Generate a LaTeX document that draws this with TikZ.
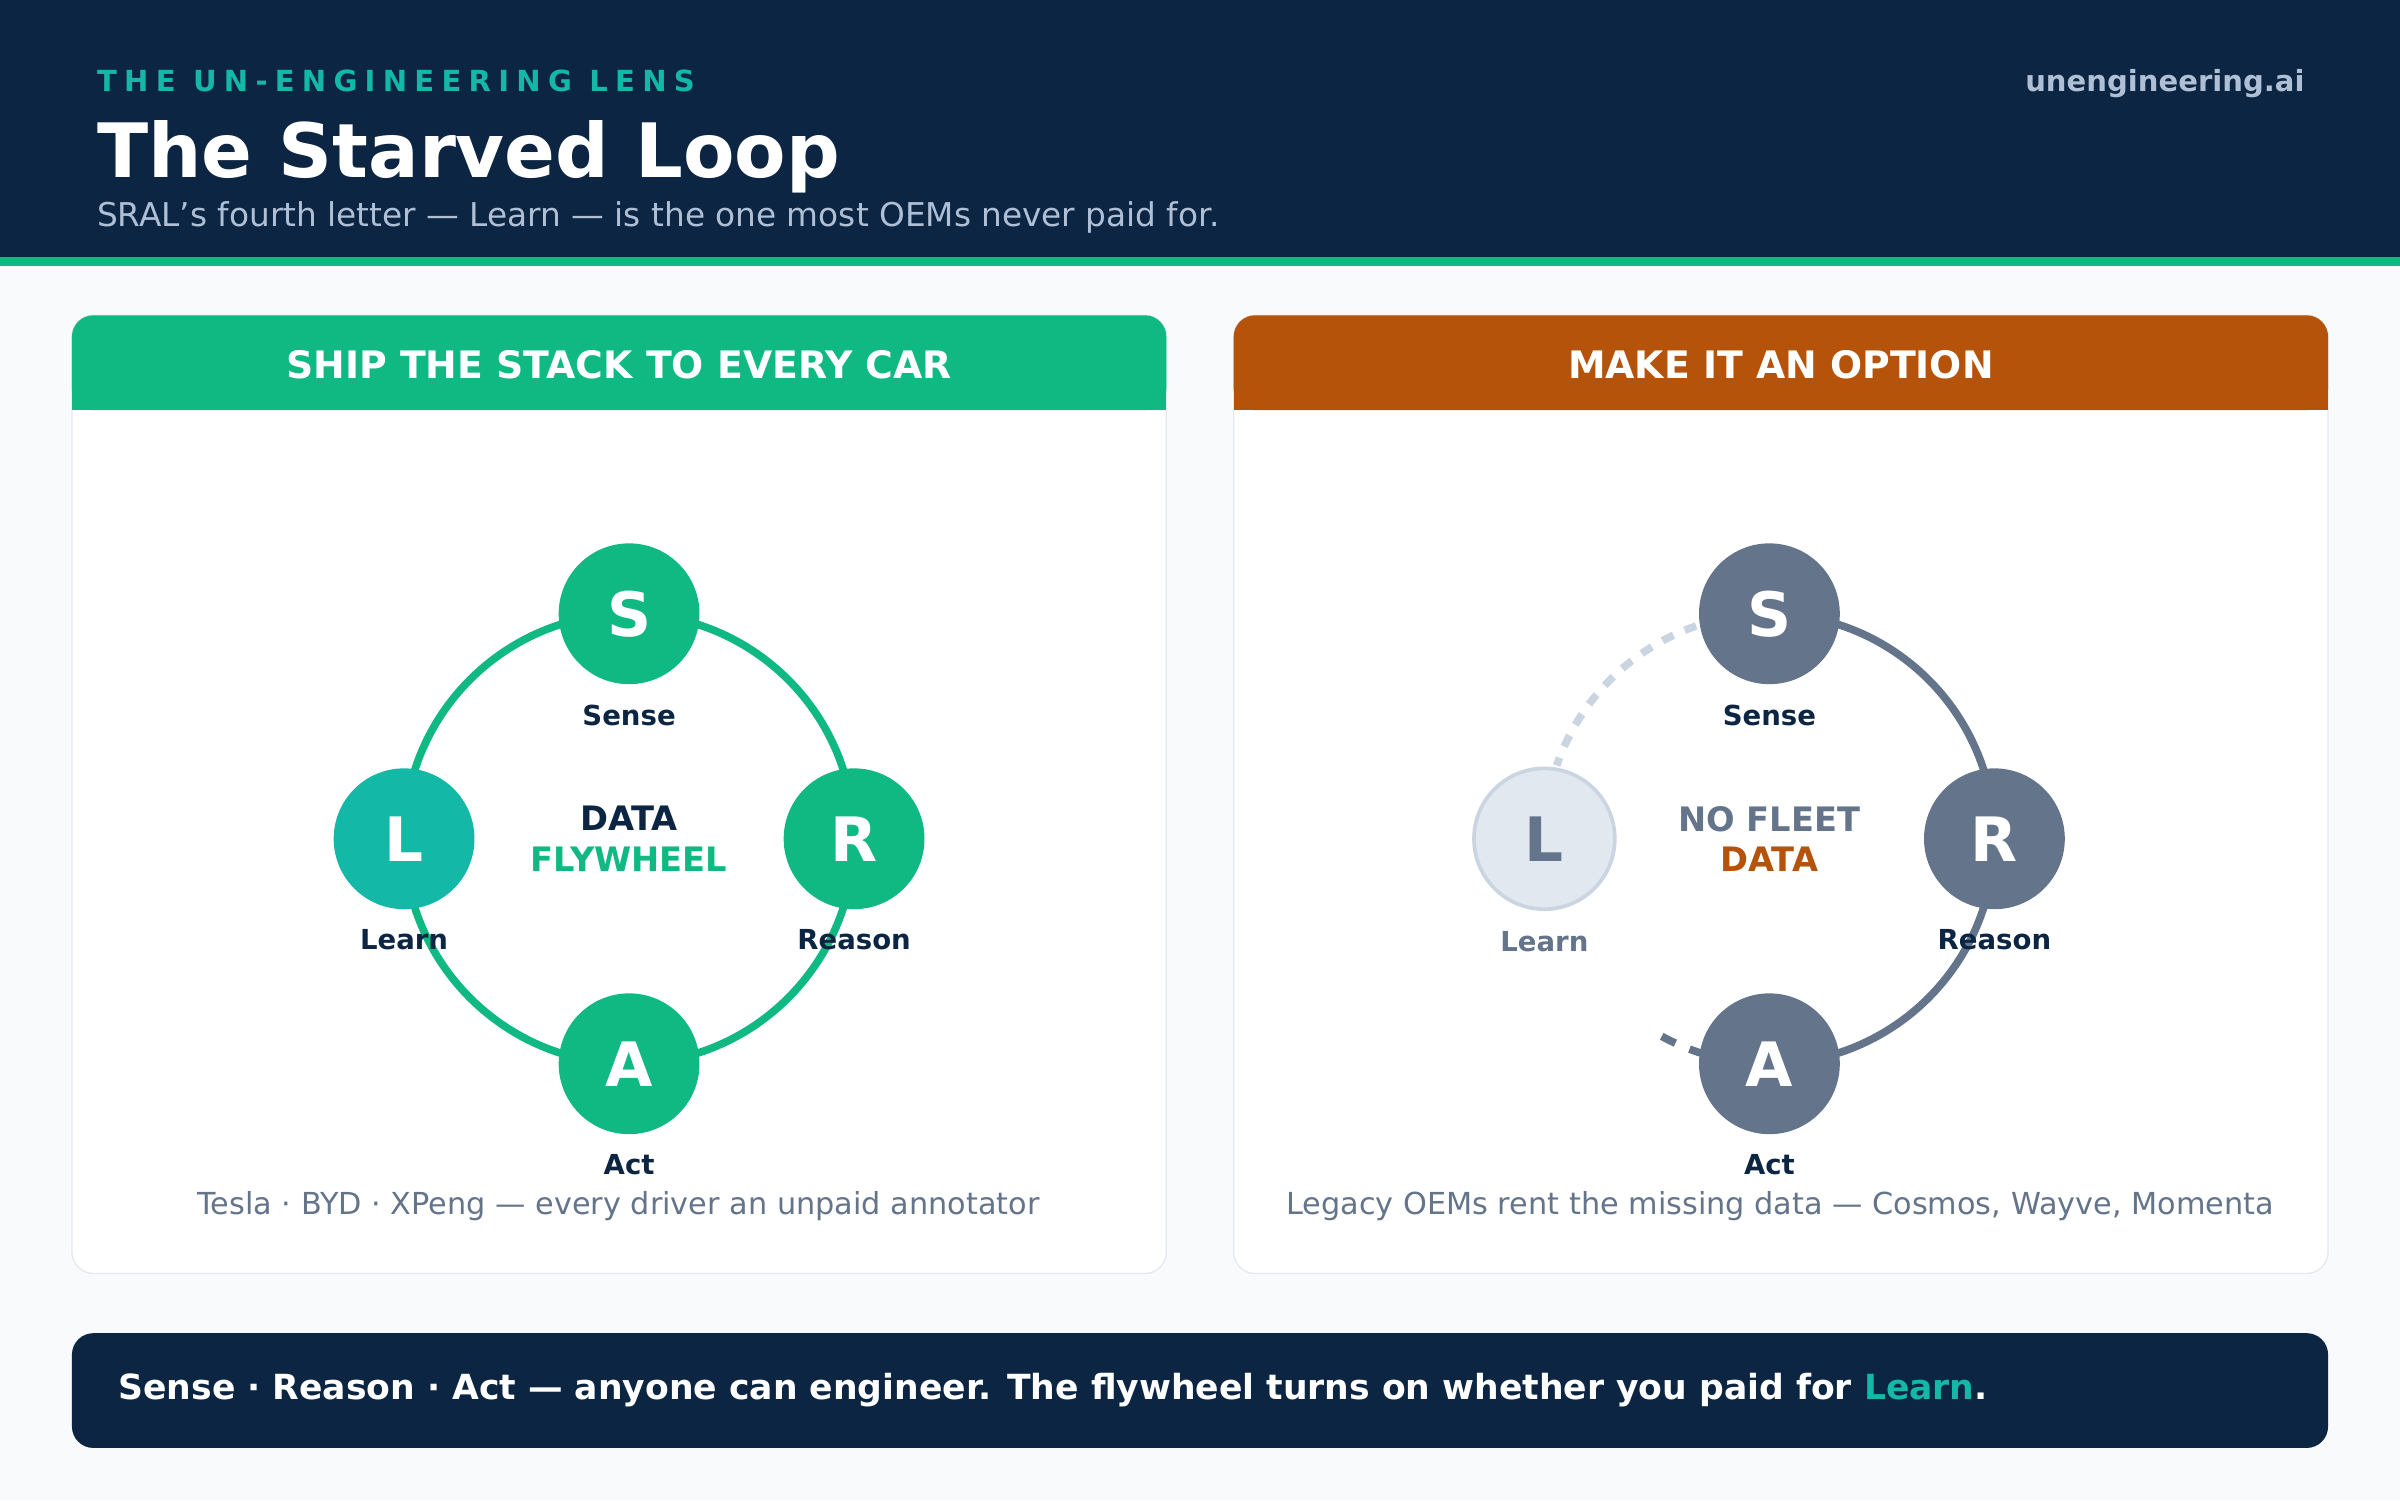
\documentclass[tikz,border=0pt]{standalone}
\usepackage{fontspec}
\setmainfont{DejaVu Sans}
\usetikzlibrary{positioning}
\definecolor{navy}{HTML}{0B2542}
\definecolor{flygreen}{HTML}{10B981}
\definecolor{flyteal}{HTML}{14B8A6}
\definecolor{optorange}{HTML}{B45309}
\definecolor{slate}{HTML}{64748B}
\definecolor{pale}{HTML}{E2E8F0}
\definecolor{paleedge}{HTML}{CBD5E1}
\definecolor{paper}{HTML}{F8FAFC}
\definecolor{subtle}{HTML}{AFC0D6}
\newcommand{\fs}[1]{\fontsize{#1pt}{\dimexpr #1pt*12/10\relax}\selectfont}
\tikzset{
  letter/.style={circle,minimum size=46pt,inner sep=0pt,text=white,font=\fs{20}\bfseries},
  steplabel/.style={font=\fs{9}\bfseries,text=navy},
  caption/.style={font=\fs{9.9},text=slate},
  heading/.style={font=\fs{12.35}\bfseries,text=white}
}
\begin{document}
\begin{tikzpicture}[x=0.5pt,y=0.5pt]
\useasboundingbox (0,0) rectangle (1568,980);
\fill[paper] (0,0) rectangle (1568,980);
% header band
\fill[navy] (0,812) rectangle (1568,980);
\fill[flygreen] (0,806) rectangle (1568,812);
\node[anchor=base west,inner sep=0pt,text=flyteal,font=\fs{9.5}\bfseries\addfontfeature{LetterSpace=25}] (kicker) at (63,920) {THE UN-ENGINEERING LENS};
\node[anchor=base west,inner sep=0pt,text=white,font=\fs{24.5}\bfseries] (title) at (63,864) {The Starved Loop};
\node[anchor=base west,inner sep=0pt,text=subtle,font=\fs{10.7}] (subtitle) at (63,832) {SRAL’s fourth letter — Learn — is the one most OEMs never paid for.};
\node[anchor=base east,inner sep=0pt,text=subtle,font=\fs{9.5}\bfseries] (site) at (1506,920) {unengineering.ai};
% panels
\foreach \x/\col/\txt in {47/flygreen/SHIP THE STACK TO EVERY CAR, 806/optorange/MAKE IT AN OPTION}{
  \draw[pale,fill=white,rounded corners=7pt] (\x,148) rectangle ++(715,626);
  \fill[\col,rounded corners=7pt] (\x,712) rectangle ++(715,62);
  \fill[\col] (\x,712) rectangle ++(715,30);
  \node[heading] at (\x+357.5,742) {\txt};
}
% left loop
\coordinate (lc) at (411,432);
\draw[flygreen,line width=2.5pt] (lc) circle (147);
\node[letter,fill=flygreen] (lS) at (411,579) {S};
\node[letter,fill=flygreen] (lR) at (558,432) {R};
\node[letter,fill=flygreen] (lA) at (411,285) {A};
\node[letter,fill=flyteal] (lL) at (264,432) {L};
\node[steplabel,below=3pt of lS] {Sense};
\node[steplabel,below=3pt of lR] {Reason};
\node[steplabel,below=3pt of lA] {Act};
\node[steplabel,below=3pt of lL] {Learn};
\node[font=\fs{11}\bfseries,align=center,text=navy] at (lc) {DATA\\\textcolor{flygreen}{FLYWHEEL}};
\node[caption] at (404,192) {Tesla · BYD · XPeng — every driver an unpaid annotator};
% right loop
\coordinate (rc) at (1156,432);
\draw[slate,line width=2.5pt] ([shift={(rc)}]90:147) arc (90:-90:147);
\draw[slate,line width=2.5pt,dash pattern=on 5pt off 5pt] ([shift={(rc)}]-118.6:147) arc (-118.6:-105:147);
\draw[paleedge,line width=2.5pt,dash pattern=on 4pt off 4pt] ([shift={(rc)}]109:147) arc (109:161:147);
\node[letter,fill=slate] (rS) at (1156,579) {S};
\node[letter,fill=slate] (rR) at (1303,432) {R};
\node[letter,fill=slate] (rA) at (1156,285) {A};
\node[letter,fill=pale,draw=paleedge,line width=1.2pt,text=slate] (rL) at (1009,432) {L};
\node[steplabel,below=3pt of rS] {Sense};
\node[steplabel,below=3pt of rR] {Reason};
\node[steplabel,below=3pt of rA] {Act};
\node[steplabel,text=slate,below=3pt of rL] {Learn};
\node[font=\fs{11}\bfseries,align=center,text=slate] at (rc) {NO FLEET\\\textcolor{optorange}{DATA}};
\node[caption] at (1163,192) {Legacy OEMs rent the missing data — Cosmos, Wayve, Momenta};
% bottom bar
\fill[navy,rounded corners=7pt] (47,34) rectangle (1521,109);
\node[anchor=west,inner sep=0pt,text=white,font=\fs{11.3}\bfseries] (takeaway) at (77,72) {Sense · Reason · Act — anyone can engineer. The flywheel turns on whether you paid for \textcolor{flyteal}{Learn}.};
\end{tikzpicture}
\end{document}
